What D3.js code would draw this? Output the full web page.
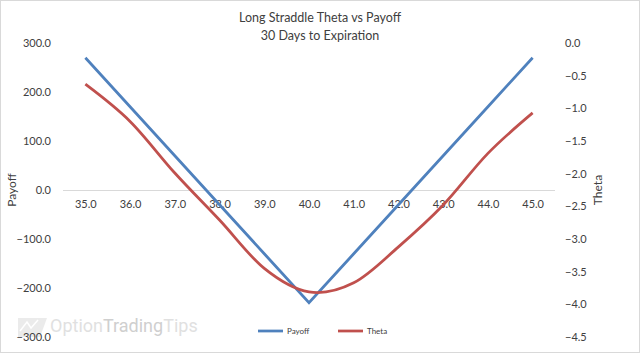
<!DOCTYPE html>
<html>
<head>
<meta charset="utf-8">
<script src="https://cdn.jsdelivr.net/npm/d3@7"></script>
<style>
  body { margin: 0; background: #fff; }
  svg { display: block; font-family: Lato, "Open Sans", sans-serif; }
</style>
</head>
<body>
<div id="chart"></div>
<script>
// strike prices on the category axis
const prices = ['35.0', '36.0', '37.0', '38.0', '39.0', '40.0', '41.0', '42.0', '43.0', '44.0', '45.0'];
const payoff = [270, 170, 70, -30, -130, -230, -130, -30, 70, 170, 270];
const theta = [-0.63, -1.20, -1.99, -2.71, -3.45, -3.81, -3.67, -3.12, -2.48, -1.69, -1.07];
const payoffTicks = [300, 200, 100, 0, -100, -200, -300];
const thetaTicks = [0, -0.5, -1, -1.5, -2, -2.5, -3, -3.5, -4, -4.5];

const width = 640, height = 353;
const plot = {left: 63, right: 555, top: 43, bottom: 337};

const svg = d3.select('#chart').append('svg')
    .attr('width', width).attr('height', height);

svg.append('rect').attr('x', 0.5).attr('y', 0.5)
    .attr('width', width - 1).attr('height', height - 1)
    .attr('fill', '#fff').attr('stroke', '#d9d9d9');

const x = d3.scalePoint().domain(prices)
    .range([plot.left, plot.right]).padding(0.5);
const yPay = d3.scaleLinear().domain([-300, 300]).range([plot.bottom, plot.top]);
const yTheta = d3.scaleLinear().domain([-4.5, 0]).range([plot.bottom, plot.top]);

// watermark
const wm = svg.append('g').attr('opacity', 0.55);
wm.append('path').attr('d', 'M18,318 L47,318 L40,337 L18,337 Z').attr('fill', '#dcdcdc');
wm.append('path').attr('d', 'M20,331 L27,322 L31,328 L38,320').attr('fill', 'none')
    .attr('stroke', '#fff').attr('stroke-width', 1.5);
const wmText = wm.append('text').attr('x', 50).attr('y', 332)
    .attr('font-size', 18).attr('font-family', 'Roboto, sans-serif');
wmText.append('tspan').attr('fill', '#c8c8c8').text('Option');
wmText.append('tspan').attr('fill', '#a8a8a8').text('Trading');
wmText.append('tspan').attr('fill', '#c8c8c8').text('Tips');

// title
svg.append('text').attr('x', 320).attr('y', 22).attr('text-anchor', 'middle')
    .attr('font-size', 12.5).attr('fill', '#404040').text('Long Straddle Theta vs Payoff');
svg.append('text').attr('x', 320).attr('y', 40).attr('text-anchor', 'middle')
    .attr('font-size', 12.5).attr('fill', '#404040').text('30 Days to Expiration');

// left axis
const leftAxis = svg.append('g').attr('transform', `translate(${plot.left},0)`)
    .call(d3.axisLeft(yPay).tickValues(payoffTicks).tickFormat(d3.format('.1f'))
        .tickSize(0).tickPadding(12));
leftAxis.select('.domain').remove();
leftAxis.selectAll('text').attr('font-size', 11).attr('fill', '#404040')
    .attr('font-family', 'Lato, sans-serif');

// right axis
const rightAxis = svg.append('g').attr('transform', `translate(${plot.right},0)`)
    .call(d3.axisRight(yTheta).tickValues(thetaTicks).tickFormat(d3.format('.1f'))
        .tickSize(0).tickPadding(10));
rightAxis.select('.domain').remove();
rightAxis.selectAll('text').attr('font-size', 11).attr('fill', '#404040')
    .attr('font-family', 'Lato, sans-serif');

// category axis on the zero line
const xAxis = svg.append('g').attr('transform', `translate(0,${yPay(0)})`)
    .call(d3.axisBottom(x).tickSize(0).tickPadding(10));
xAxis.select('.domain').attr('stroke', '#d9d9d9').attr('d', `M${plot.left},0.5H${plot.right}`);
xAxis.selectAll('text').attr('font-size', 11).attr('fill', '#404040')
    .attr('font-family', 'Lato, sans-serif');

// axis titles
svg.append('text').attr('transform', `translate(16,${yPay(0)}) rotate(-90)`)
    .attr('text-anchor', 'middle').attr('font-size', 12).attr('fill', '#404040').text('Payoff');
svg.append('text').attr('transform', `translate(602,${yPay(0)}) rotate(-90)`)
    .attr('text-anchor', 'middle').attr('font-size', 12).attr('fill', '#404040').text('Theta');

// series
const payLine = d3.line().x((d, i) => x(prices[i])).y(d => yPay(d));
const thetaLine = d3.line().x((d, i) => x(prices[i])).y(d => yTheta(d))
    .curve(d3.curveCatmullRom.alpha(0));

svg.append('path').datum(payoff).attr('fill', 'none').attr('stroke', '#4f81bd')
    .attr('stroke-width', 2.75).attr('stroke-linejoin', 'miter').attr('d', payLine);
svg.append('path').datum(theta).attr('fill', 'none').attr('stroke', '#c0504d')
    .attr('stroke-width', 2.75).attr('d', thetaLine);

// legend
const legend = [
    {name: 'Payoff', color: '#4f81bd', x: 258},
    {name: 'Theta', color: '#c0504d', x: 338}
];
const lg = svg.append('g');
legend.forEach(d => {
    lg.append('line').attr('x1', d.x).attr('x2', d.x + 25).attr('y1', 331).attr('y2', 331)
        .attr('stroke', d.color).attr('stroke-width', 2.75);
    lg.append('text').attr('x', d.x + 29).attr('y', 334).attr('font-size', 8)
        .attr('fill', '#404040').text(d.name);
});
</script>
</body>
</html>
